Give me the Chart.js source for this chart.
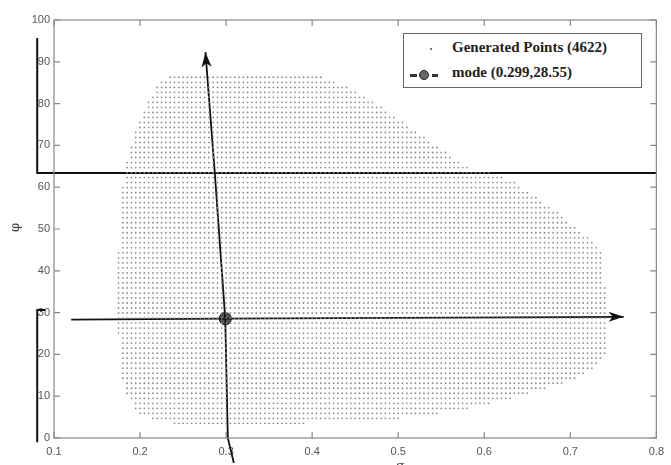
<!DOCTYPE html>
<html>
<head>
<meta charset="utf-8">
<script src="https://cdn.jsdelivr.net/npm/chart.js@4.4.1/dist/chart.umd.min.js"></script>
<style>
  body { margin: 0; background: #fff; }
  #wrap { position: relative; width: 671px; height: 465px; overflow: hidden; }
  #legend {
    position: absolute; left: 403px; top: 33px; width: 237px; height: 53px;
    border: 1px solid #666; background: #fff;
    font-family: "Liberation Serif", serif; font-weight: bold; font-size: 15px; color: #222;
  }
  #legend .row { position: absolute; left: 48px; white-space: nowrap; }
  .sym { position: absolute; }
  .axt { position: absolute; font-family: "DejaVu Serif", serif; font-size: 13px; color: #333; }
</style>
</head>
<body>
<div id="wrap">
  <canvas id="grafica" width="671" height="465"></canvas>
  <div id="legend">
    <div class="sym" style="left:26px;top:14px;width:2px;height:2px;background:#777;"></div>
    <div class="row" style="top:5px;">Generated Points (4622)</div>
    <div class="sym" style="left:6px;top:40px;width:7px;height:3px;background:#333;"></div>
    <div class="sym" style="left:15px;top:36px;width:10px;height:10px;border-radius:50%;background:#666;border:1px solid #222;box-sizing:border-box;"></div>
    <div class="sym" style="left:28px;top:40px;width:6px;height:3px;background:#333;"></div>
    <div class="row" style="top:30px;">mode (0.299,28.55)</div>
  </div>
  <div class="axt" style="left:10px;top:220px;transform:rotate(-90deg);">φ</div>
  <div class="axt" style="left:396px;top:458px;">σ</div>
</div>
<script>
// region of generated points: left and right edge
const limIzqY = [3.5, 4.3, 5.5, 7, 10, 14, 20, 30, 40, 50, 60, 65, 70, 75, 80, 83, 85, 87.3];
const limIzqX = [0.239, 0.216, 0.201, 0.194, 0.185, 0.179, 0.176, 0.174, 0.174, 0.176, 0.180, 0.184, 0.189, 0.197, 0.208, 0.216, 0.224, 0.236];
const limDerY = [3.5, 4.3, 6.2, 7.9, 10.3, 11.5, 13.2, 14.6, 17, 19.4, 25, 33, 41, 45, 46.7, 49.8, 52.9, 56.2, 58.6, 61, 63, 65, 70, 75, 80, 83, 85, 87.3];
const limDerX = [0.394, 0.486, 0.561, 0.601, 0.647, 0.666, 0.693, 0.713, 0.728, 0.741, 0.741, 0.741, 0.739, 0.736, 0.728, 0.708, 0.693, 0.670, 0.655, 0.636, 0.618, 0.578, 0.544, 0.509, 0.475, 0.452, 0.429, 0.398];
const pasoX = 0.005;
const pasoY = 1.2;

// mode and arrows
const modo = { x: 0.299, y: 28.55 };
const flechaVertX = [0.309, 0.302, 0.299, 0.287, 0.276];
const flechaVertY = [-6, 0, 28.55, 63, 92.3];
const flechaHorX = [0.12, 0.299, 0.762];
const flechaHorY = [28.3, 28.55, 29.0];

// black marks on the left of the axes
const lineaSupX = [0.8, 0.0805, 0.0805];
const lineaSupY = [63.4, 63.4, 95.7];
const lineaInfX = [0.0897, 0.0805, 0.0805];
const lineaInfY = [30.6, 30.6, -1];

const ticksX = [0.1, 0.2, 0.3, 0.4, 0.5, 0.6, 0.7, 0.8];
const ticksY = [0, 10, 20, 30, 40, 50, 60, 70, 80, 90, 100];

function limite(ys, xs, y) {
  for (let i = 0; i < ys.length - 1; i++) {
    if (y >= ys[i] && y <= ys[i + 1]) {
      const t = (y - ys[i]) / (ys[i + 1] - ys[i]);
      return xs[i] + t * (xs[i + 1] - xs[i]);
    }
  }
  return null;
}

const puntos = [];
for (let y = limIzqY[0]; y <= 87.3; y += pasoY) {
  const a = limite(limIzqY, limIzqX, y);
  const b = limite(limDerY, limDerX, y);
  if (a === null || b === null) continue;
  for (let k = Math.ceil(a / pasoX); k * pasoX <= b; k++) {
    puntos.push({ x: k * pasoX, y: y });
  }
}

const aPares = (xs, ys) => xs.map((x, i) => ({ x: x, y: ys[i] }));

const lineaNegra = (data, ancho) => ({
  type: 'line', data: data, borderColor: '#111', borderWidth: ancho,
  pointRadius: 0, fill: false, tension: 0, clip: false
});

const flechas = {
  id: 'flechas',
  afterDatasetsDraw(chart) {
    const ctx = chart.ctx;
    chart.data.datasets.forEach((ds, i) => {
      if (!ds.flecha) return;
      const pts = chart.getDatasetMeta(i).data;
      const a = pts[pts.length - 2], b = pts[pts.length - 1];
      const ang = Math.atan2(b.y - a.y, b.x - a.x);
      ctx.save();
      ctx.translate(b.x, b.y);
      ctx.rotate(ang);
      ctx.fillStyle = '#111';
      ctx.beginPath();
      ctx.moveTo(0, 0);
      ctx.lineTo(-15, -5);
      ctx.lineTo(-11, 0);
      ctx.lineTo(-15, 5);
      ctx.closePath();
      ctx.fill();
      ctx.restore();
    });
  }
};

const marco = {
  id: 'marco',
  afterDraw(chart) {
    const ctx = chart.ctx, ca = chart.chartArea;
    const sx = chart.scales.x, sy = chart.scales.y;
    ctx.save();
    ctx.strokeStyle = '#888';
    ctx.lineWidth = 1.2;
    ctx.strokeRect(ca.left, ca.top, ca.right - ca.left, ca.bottom - ca.top);
    ctx.beginPath();
    ticksX.forEach(v => {
      const px = sx.getPixelForValue(v);
      ctx.moveTo(px, ca.bottom); ctx.lineTo(px, ca.bottom - 6);
      ctx.moveTo(px, ca.top); ctx.lineTo(px, ca.top + 6);
    });
    ticksY.forEach(v => {
      const py = sy.getPixelForValue(v);
      ctx.moveTo(ca.left, py); ctx.lineTo(ca.left + 6, py);
      ctx.moveTo(ca.right, py); ctx.lineTo(ca.right - 6, py);
    });
    ctx.stroke();
    ctx.restore();
  }
};

const ctx = document.getElementById('grafica').getContext('2d');
new Chart(ctx, {
  type: 'scatter',
  data: {
    datasets: [
      {
        label: 'Generated Points (4622)',
        data: puntos,
        pointRadius: 0.9,
        pointBorderWidth: 0,
        backgroundColor: '#8c8c8c',
        borderColor: '#8c8c8c'
      },
      lineaNegra(aPares(lineaSupX, lineaSupY), 2),
      lineaNegra(aPares(lineaInfX, lineaInfY), 2),
      Object.assign(lineaNegra(aPares(flechaVertX, flechaVertY), 1.8), { flecha: true }),
      Object.assign(lineaNegra(aPares(flechaHorX, flechaHorY), 1.8), { flecha: true }),
      {
        label: 'mode (0.299,28.55)',
        data: [modo],
        pointRadius: 6,
        backgroundColor: '#555',
        borderColor: '#222',
        borderWidth: 1.2
      }
    ]
  },
  options: {
    responsive: false,
    animation: false,
    layout: { padding: { left: 0, right: 8, top: 20, bottom: 0 } },
    plugins: { legend: { display: false }, tooltip: { enabled: false } },
    scales: {
      x: {
        type: 'linear', min: 0.1, max: 0.8,
        grid: { display: false, drawTicks: false }, border: { display: false },
        afterBuildTicks: s => { s.ticks = ticksX.map(v => ({ value: v })); },
        afterFit: s => { s.height = 27; },
        ticks: {
          padding: 7, color: '#555', maxRotation: 0,
          font: { family: 'Liberation Sans', size: 11 },
          callback: v => String(v)
        }
      },
      y: {
        type: 'linear', min: 0, max: 100,
        grid: { display: false, drawTicks: false }, border: { display: false },
        afterBuildTicks: s => { s.ticks = ticksY.map(v => ({ value: v })); },
        afterFit: s => { s.width = 54; },
        ticks: {
          padding: 4, color: '#555',
          font: { family: 'Liberation Sans', size: 11 },
          callback: v => String(v)
        }
      }
    }
  },
  plugins: [flechas, marco]
});
</script>
</body>
</html>
